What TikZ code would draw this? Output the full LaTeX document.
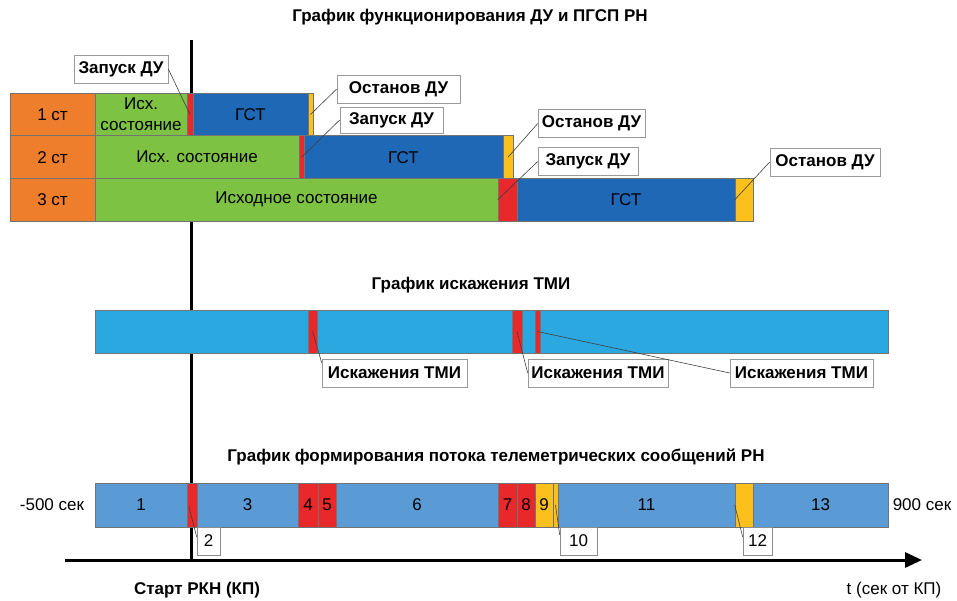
\documentclass[tikz,border=0pt]{standalone}
\usepackage{fontspec}
\setmainfont{Liberation Sans}
\usetikzlibrary{arrows.meta,positioning,calc}
\definecolor{stage}{HTML}{EE7D2C}
\definecolor{init}{HTML}{7DC242}
\definecolor{start}{HTML}{E8282B}
\definecolor{gst}{HTML}{1F68B6}
\definecolor{stop}{HTML}{FBC01C}
\definecolor{tmi}{HTML}{2BA8E0}
\definecolor{flow}{HTML}{5B9BD5}
\begin{document}
\begin{tikzpicture}[x=1pt,y=-1pt,
  seg/.style={draw=black!55, line width=0.6pt, inner sep=0pt,
    font=\fontsize{17}{21}\selectfont, align=center},
  row/.style={seg, minimum height=43pt},
  bar/.style={seg, minimum height=44pt},
  note/.style={draw=black!40, fill=white, line width=0.6pt, inner sep=0pt,
    minimum height=28pt, font=\bfseries\fontsize{17}{20}\selectfont},
  num/.style={draw=black!45, line width=0.6pt, inner sep=0pt,
    minimum height=28pt, font=\fontsize{17}{20}\selectfont},
  lead/.style={draw=black!75, line width=0.6pt},
  ttl/.style={font=\bfseries\fontsize{17}{20}\selectfont}]
  \useasboundingbox (0,0) rectangle (957,601);

  \coordinate (kptop) at (191,40);
  \coordinate (kpbot) at (191,560);
  \coordinate (tbeg) at (65,560);
  \coordinate (tend) at (922,560);
  \draw[line width=3pt] (kptop) -- (kpbot);

  \node[ttl] (title1) at (470,17) {График функционирования ДУ и ПГСП РН};
  \foreach \nm/\xa/\xb/\yc/\col/\txt in {
    st1/10/95/114.5/stage/1 ст, ish1/95/187/114.5/init/{Исх.\\состояние},
    on1/187/193/114.5/start/{}, gst1/193/308/114.5/gst/ГСТ,
    off1/308/313/114.5/stop/{},
    st2/10/95/157.2/stage/2 ст, ish2/95/299/157.2/init/Исх. состояние,
    on2/299/304/157.2/start/{}, gst2/304/503/157.2/gst/ГСТ,
    off2/503/513/157.2/stop/{},
    st3/10/95/199.8/stage/3 ст, ish3/95/498/199.8/init/Исходное состояние,
    on3/498/517/199.8/start/{}, gst3/517/735/199.8/gst/ГСТ,
    off3/735/753/199.8/stop/{}}
    \node[row, fill=\col, minimum width={(\xb-\xa)*1pt}] (\nm)
      at ({(\xa+\xb)/2},\yc) {\txt};

  \node[note, minimum width=94pt] (on1n) at (121,69) {Запуск ДУ};
  \node[note, minimum width=123pt] (off1n) at (398.5,89) {Останов ДУ};
  \node[note, minimum width=103pt, minimum height=26pt] (on2n) at (391.5,120) {Запуск ДУ};
  \node[note, minimum width=107pt] (off2n) at (591.5,123.5) {Останов ДУ};
  \node[note, minimum width=100pt] (on3n) at (588,161.5) {Запуск ДУ};
  \node[note, minimum width=110pt] (off3n) at (825,162) {Останов ДУ};
  \draw[lead] (on1n.east) -- (on1.center);
  \draw[lead] (off1n.west) -- (off1.center);
  \draw[lead] (on2n.west) -- (on2.center);
  \draw[lead] (off2n.west) -- (off2.center);
  \draw[lead] (on3n.west) -- (on3.west);
  \draw[lead] (off3n.west) -- (off3.west);

  \node[ttl] (title2) at (471,285) {График искажения ТМИ};
  \node[seg, fill=tmi, minimum width=793pt, minimum height=43pt] (tmi) at (491.5,331.5) {};
  \foreach \nm/\xa/\xb in {err1/308/317, err2/512/522, err3/535/540}
    \node[seg, fill=start, minimum width={(\xb-\xa)*1pt}, minimum height=43pt] (\nm)
      at ({(\xa+\xb)/2},331.5) {};
  \node[note, minimum width=145pt] (err1n) at (394.5,373) {Искажения ТМИ};
  \node[note, minimum width=140pt] (err2n) at (598,373) {Искажения ТМИ};
  \node[note, minimum width=143pt] (err3n) at (801.5,373) {Искажения ТМИ};
  \draw[lead] (err1.center) -- ($(err1n.north west)+(0,4)$);
  \draw[lead] (err2.center) -- (err2n.west);
  \draw[lead] (err3.center) -- (err3n.west);

  \node[ttl] (title3) at (496,457) {График формирования потока телеметрических сообщений РН};
  \foreach \nm/\xa/\xb/\col/\txt in {
    p1/95/187/flow/1, p2/187/197/start/{}, p3/197/298/flow/3,
    p4/298/318/start/4, p5/318/336/start/5, p6/336/498/flow/6,
    p7/498/517/start/7, p8/517/535/start/8, p9/535/553/stop/9,
    p10/553/558/stop/{}, p11/558/735/flow/11, p12/735/753/stop/{},
    p13/753/888/flow/13}
    \node[bar, fill=\col, minimum width={(\xb-\xa)*1pt}] (\nm)
      at ({(\xa+\xb)/2},505) {\txt};
  \node[font=\fontsize{17}{20}\selectfont] (tmin) at (52,505) {-500 сек};
  \node[font=\fontsize{17}{20}\selectfont] (tmax) at (922,505) {900 сек};

  \node[num, minimum width=23pt] (p2n) at (208.5,541) {2};
  \node[num, minimum width=37pt] (p10n) at (578.5,541) {10};
  \node[num, minimum width=29pt] (p12n) at (757.5,541) {12};
  \draw[lead] ($(p2.center)+(-3,2)$) -- ($(p2n.west)+(0,-4)$);
  \draw[lead] (p10.center) -- ($(p10n.west)+(0,-6)$);
  \draw[lead] (p12.west) -- ($(p12n.west)+(0,-4)$);

  \draw[line width=3pt, -{Triangle[length=17pt,width=15pt]}] (tbeg) -- (tend);
  \node[ttl] (kplbl) at (197,590) {Старт РКН (КП)};
  \node[font=\fontsize{17}{20}\selectfont] (tlbl) at (894,590) {t (сек от КП)};
\end{tikzpicture}
\end{document}
